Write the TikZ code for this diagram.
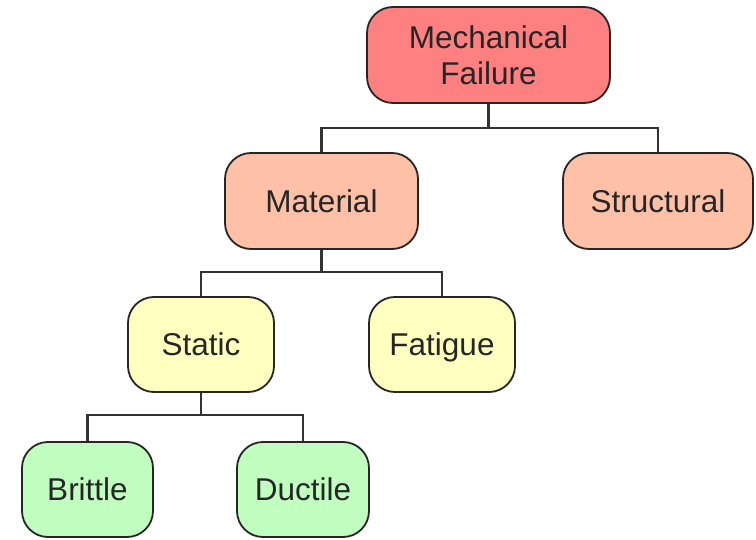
\documentclass[tikz,border=0pt]{standalone}
\usepackage{fontspec}
\setmainfont{Liberation Sans}
\begin{document}
\begin{tikzpicture}[x=1bp, y=-1bp,
  box/.style={draw=black!85, line width=1.8bp, rounded corners=26bp,
    text=black!85, align=center, inner sep=0pt,
    font=\fontsize{31.5bp}{36bp}\selectfont},
  oneline/.style={text height=22.5bp, text depth=0bp},
  lvla/.style={box, fill=red!50!white},
  lvlb/.style={box, oneline, fill={rgb,255:red,255;green,192;blue,168}},
  lvlc/.style={box, oneline, fill={rgb,255:red,255;green,255;blue,192}},
  lvld/.style={box, oneline, fill={rgb,255:red,192;green,255;blue,192}},
  link/.style={draw=black!80, line width=2.2bp}]
\useasboundingbox (0,0) rectangle (756,540);
\fill[white] (0,0) rectangle (756,540);

\node[lvla, minimum width=243bp, minimum height=96bp] (mf) at (488.5,55) {Mechanical\\Failure};
\node[lvlb, minimum width=193bp, minimum height=96bp] (mat) at (321.5,201) {Material};
\node[lvlb, minimum width=190bp, minimum height=96bp] (str) at (658,201) {Structural};
\node[lvlc, minimum width=146bp, minimum height=95bp] (sta) at (201,344.5) {Static};
\node[lvlc, minimum width=146bp, minimum height=95bp] (fat) at (442,344.5) {Fatigue};
\node[lvld, minimum width=131bp, minimum height=95bp] (bri) at (87.5,489.5) {Brittle};
\node[lvld, minimum width=132bp, minimum height=95bp] (duc) at (303,489.5) {Ductile};

\coordinate (j1) at (488.5,128);
\coordinate (j2) at (321.5,272);
\coordinate (j3) at (201,415);

\draw[link] (mf.south) -- (j1);
\draw[link] (mat.north) |- (j1) -| (str.north);
\draw[link] (mat.south) -- (j2);
\draw[link] (sta.north) |- (j2) -| (fat.north);
\draw[link] (sta.south) -- (j3);
\draw[link] (bri.north) |- (j3) -| (duc.north);
\end{tikzpicture}
\end{document}
